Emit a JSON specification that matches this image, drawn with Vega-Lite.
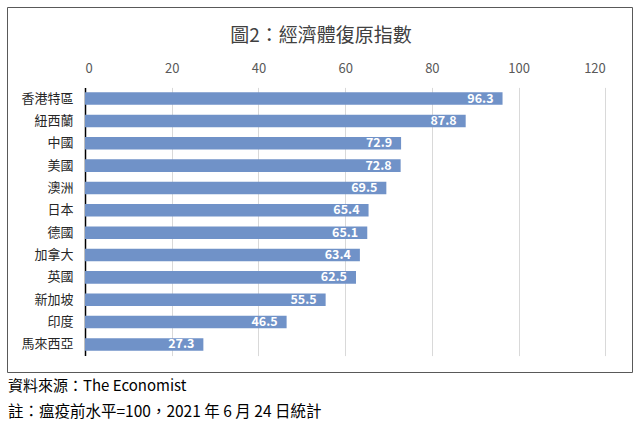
{
  "$schema": "https://vega.github.io/schema/vega-lite/v6.json",
  "autosize": "none",
  "width": 625,
  "height": 365,
  "padding": {"left": 7, "top": 7, "right": 8, "bottom": 54},
  "background": "white",
  "config": {
    "font": "Noto Sans CJK TC",
    "view": {"stroke": "#595959", "strokeWidth": 1}
  },
  "title": {
    "text": "資料來源：The Economist",
    "subtitle": "註：瘟疫前水平=100，2021 年 6 月 24 日統計",
    "orient": "bottom",
    "anchor": "start",
    "frame": "bounds",
    "offset": 7,
    "dx": 1,
    "font": "Noto Sans CJK TC",
    "fontSize": 15,
    "fontWeight": "normal",
    "color": "#000000",
    "subtitleFont": "Noto Sans CJK TC",
    "subtitleFontSize": 15.5,
    "subtitleColor": "#000000",
    "subtitlePadding": 11
  },
  "data": {
    "values": [
      {"country": "香港特區", "value": 96.3},
      {"country": "紐西蘭", "value": 87.8},
      {"country": "中國", "value": 72.9},
      {"country": "美國", "value": 72.8},
      {"country": "澳洲", "value": 69.5},
      {"country": "日本", "value": 65.4},
      {"country": "德國", "value": 65.1},
      {"country": "加拿大", "value": 63.4},
      {"country": "英國", "value": 62.5},
      {"country": "新加坡", "value": 55.5},
      {"country": "印度", "value": 46.5},
      {"country": "馬來西亞", "value": 27.3}
    ]
  },
  "encoding": {
    "y": {
      "field": "country",
      "type": "nominal",
      "sort": null,
      "scale": {"range": [80.4, 348.6], "paddingInner": 0.44, "paddingOuter": 0.22},
      "axis": {
        "orient": "left",
        "offset": -78,
        "title": null,
        "ticks": false,
        "tickSize": 0,
        "labelPadding": 12,
        "labelFontSize": 13,
        "labelColor": "#262626",
        "labelFont": "Noto Sans CJK TC",
        "domainColor": "#000000",
        "domainWidth": 1.5,
        "grid": false
      }
    },
    "x": {
      "field": "value",
      "type": "quantitative",
      "scale": {"domain": [0, 120], "range": [78, 598.3], "nice": false, "zero": true},
      "axis": {
        "orient": "top",
        "offset": -80,
        "values": [0, 20, 40, 60, 80, 100, 120],
        "domain": false,
        "ticks": false,
        "tickSize": 0,
        "labelPadding": 12,
        "labelFontSize": 13,
        "labelColor": "#595959",
        "labelFont": "Noto Sans CJK TC",
        "grid": true,
        "gridColor": "#d9d9d9",
        "gridWidth": 1,
        "title": "圖2：經濟體復原指數",
        "titleFont": "Noto Sans CJK TC",
        "titleFontSize": 19,
        "titleFontWeight": "normal",
        "titleColor": "#404040",
        "titleX": 313.5,
        "titleY": -52,
        "titleAlign": "center",
        "titleBaseline": "middle"
      }
    }
  },
  "layer": [
    {"mark": {"type": "bar", "color": "#7092C8"}},
    {
      "mark": {"type": "text", "align": "right", "baseline": "middle", "dx": -9, "color": "white", "fontWeight": "bold", "fontSize": 12.5, "font": "Noto Sans CJK TC"},
      "encoding": {"text": {"field": "value", "type": "quantitative", "format": ".1f"}}
    }
  ]
}
